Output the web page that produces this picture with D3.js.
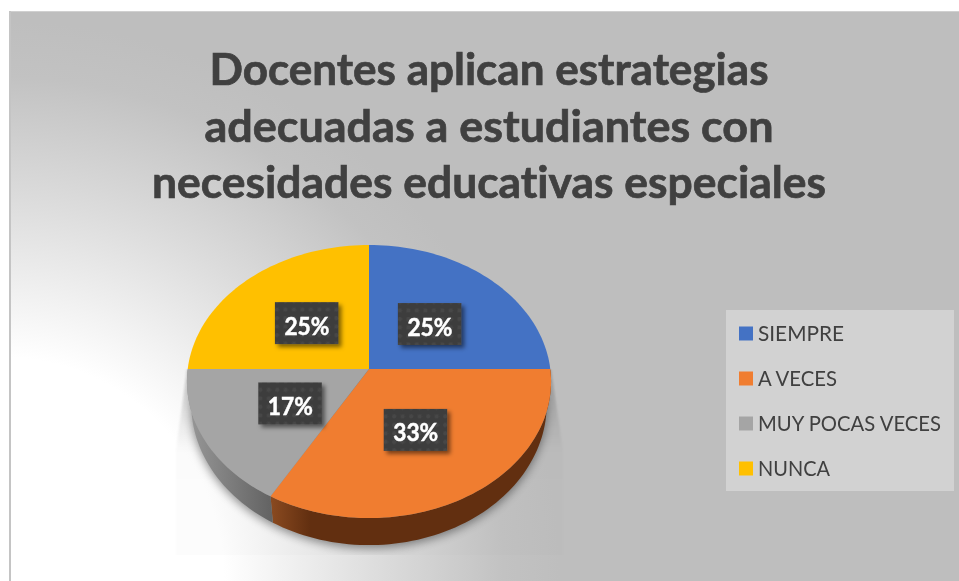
<!DOCTYPE html>
<html>
<head>
<meta charset="utf-8">
<style>
html, body { margin: 0; padding: 0; background: #fff; overflow: hidden; }
text { font-family: Lato, "Open Sans", sans-serif; font-variant-ligatures: none; }
</style>
</head>
<body>

<script src="https://d3js.org/d3.v7.min.js"></script>
<script>

const titleLines = ['Docentes aplican estrategias', 'adecuadas a estudiantes con', 'necesidades educativas especiales'];
const titleWidths = [559, 569, 674];
const categories = ['SIEMPRE', 'A VECES', 'MUY POCAS VECES', 'NUNCA'];
const counts = [3, 4, 2, 3];
const colors = ['#4472c4', '#f07d30', '#a5a5a5', '#ffc000'];
const labelRadius = [0.49, 0.495, 0.49, 0.5];
const legendWidths = [86, 79, 183, 72];

const width = 959;
const height = 581;
const cx = 369;
const cy = 369;
const tilt = 0.0916; // perspective of the 3D pie

const svg = d3.select('body')
              .append('svg')
              .attr('width', width)
              .attr('height', height)
              .style('display', 'block');

const defs = svg.append('defs');

const bg = defs.append('radialGradient')
  .attr('id', 'bg')
  .attr('gradientUnits', 'userSpaceOnUse')
  .attr('cx', 0).attr('cy', height).attr('r', 560);
[[0, '#ffffff'], [0.4, '#ffffff'], [0.68, '#dcdcdc'], [0.9, '#c2c2c2'], [1, '#bebebe']].forEach(s => {
  bg.append('stop').attr('offset', s[0]).attr('stop-color', s[1]);
});

const wallGrad = (id, x1, x2, stops) => {
  const g = defs.append('linearGradient')
    .attr('id', id)
    .attr('gradientUnits', 'userSpaceOnUse')
    .attr('x1', x1).attr('x2', x2).attr('y1', 0).attr('y2', 0);
  stops.forEach(s => g.append('stop').attr('offset', s[0]).attr('stop-color', s[1]));
};
wallGrad('wall1', 271, 310, [[0, '#8a4a20'], [1, '#622f10']]);
wallGrad('wall2', 187, 273, [[0, '#989898'], [1, '#626262']]);

const shade = defs.append('linearGradient')
  .attr('id', 'shade').attr('x1', 0).attr('x2', 0).attr('y1', 0).attr('y2', 1);
shade.append('stop').attr('offset', 0).attr('stop-color', '#000').attr('stop-opacity', 0.17);
shade.append('stop').attr('offset', 0.45).attr('stop-color', '#000').attr('stop-opacity', 0.015);
shade.append('stop').attr('offset', 1).attr('stop-color', '#000').attr('stop-opacity', 0.01);

defs.append('filter').attr('id', 'blur5')
  .attr('x', '-20%').attr('y', '-20%').attr('width', '140%').attr('height', '140%')
  .append('feGaussianBlur').attr('stdDeviation', 5);
defs.append('filter').attr('id', 'blur1')
  .append('feGaussianBlur').attr('stdDeviation', 1);
defs.append('filter').attr('id', 'soft')
  .append('feGaussianBlur').attr('stdDeviation', 0.4);

const labelShadow = defs.append('filter').attr('id', 'labelShadow')
  .attr('x', '-20%').attr('y', '-20%').attr('width', '150%').attr('height', '150%');
labelShadow.append('feDropShadow')
  .attr('dx', 3).attr('dy', 3).attr('stdDeviation', 2.2)
  .attr('flood-color', '#000').attr('flood-opacity', 0.5);

const dots = defs.append('pattern').attr('id', 'dots')
  .attr('patternUnits', 'userSpaceOnUse')
  .attr('width', 8.5).attr('height', 8.5);
dots.append('rect').attr('width', 8.5).attr('height', 8.5).attr('fill', '#3e3e3e');
dots.append('circle').attr('cx', 4).attr('cy', 4).attr('r', 2).attr('fill', '#474747');

const clip = defs.append('clipPath').attr('id', 'shadowClip');
clip.append('rect').attr('x', 0).attr('y', cy).attr('width', width).attr('height', 186);

// background panel with its frame
svg.append('rect').attr('x', 9).attr('y', 11).attr('width', width - 9).attr('height', height - 11).attr('fill', '#d0d0d0');
svg.append('rect').attr('x', 9).attr('y', 11).attr('width', 2).attr('height', height - 11).attr('fill', '#c4c4c4');
svg.append('rect').attr('x', 11).attr('y', 12).attr('width', width - 11).attr('height', height - 12).attr('fill', 'url(#bg)');

// title
svg.append('g')
  .selectAll('text')
  .data(titleLines)
  .enter()
  .append('text')
  .attr('x', 489)
  .attr('y', (d, i) => 85 + i * 56.5)
  .attr('text-anchor', 'middle')
  .attr('font-size', 44)
  .attr('font-weight', 700)
  .attr('fill', '#404040')
  .attr('stroke', '#404040')
  .attr('stroke-width', 0.7)
  .attr('textLength', (d, i) => titleWidths[i])
  .attr('lengthAdjust', 'spacingAndGlyphs')
  .attr('filter', 'url(#soft)')
  .text(d => d);

// pie
const color = d3.scaleOrdinal(categories, colors);
const pie = d3.pie().sort(null).value(d => d.count);
const slices = pie(categories.map((c, i) => ({ name: c, count: counts[i], lr: labelRadius[i] })));
const total = d3.sum(counts);
const pct = d3.format('.0%');

const xTop = d3.scaleLinear([-1, 1], [cx - 181.3, cx + 181.3]);
const yTop = d3.scaleLinear([-1, 1], [cy - 135.4, cy + 135.4]);
const xLow = d3.scaleLinear([-1, 1], [cx - 177, cx + 177]);
const yLow = d3.scaleLinear([-1, 1], [cy + 22 - 140, cy + 22 + 140]);

// angle is clockwise from the top, f is the fraction of the radius
const project = (a, f, xs, ys) => {
  const u = Math.sin(a) * f;
  const z = -Math.cos(a) * f;
  const d = 1 - tilt * z;
  return [xs(u / d), ys(z / d)];
};

const line = d3.line();
const arcPoints = (a0, a1, xs, ys) => {
  const n = Math.max(2, Math.ceil((a1 - a0) / 0.03));
  return d3.range(n + 1).map(i => project(a0 + (a1 - a0) * i / n, 1, xs, ys));
};

// shadow under the pie
const shadowG = svg.append('g').attr('clip-path', 'url(#shadowClip)');
shadowG.append('path')
  .attr('d', line([[187, cy], [176, 450], [176, 556], [563, 556], [563, 450], [551, cy]]))
  .attr('fill', 'url(#shade)')
  .attr('filter', 'url(#blur1)');
shadowG.append('path')
  .attr('d', line(arcPoints(0, 2 * Math.PI, xLow, yLow)) + 'Z')
  .attr('transform', 'translate(0,3)')
  .attr('fill', '#000')
  .attr('opacity', 0.42)
  .attr('filter', 'url(#blur5)');

// side wall, only the near half is visible
const walls = svg.append('g');
slices.forEach((s, i) => {
  const a0 = Math.max(s.startAngle, Math.PI / 2);
  const a1 = Math.min(s.endAngle, 3 * Math.PI / 2);
  if (a1 <= a0) return;
  const pts = arcPoints(a0, a1, xTop, yTop).concat(arcPoints(a0, a1, xLow, yLow).reverse());
  walls.append('path')
    .attr('d', line(pts) + 'Z')
    .attr('fill', `url(#wall${i})`);
});

// top face
svg.append('g')
  .selectAll('path')
  .data(slices)
  .enter()
  .append('path')
  .attr('d', s => line([[cx, cy]].concat(arcPoints(s.startAngle, s.endAngle, xTop, yTop))) + 'Z')
  .attr('fill', s => color(s.data.name));

// data labels
const labels = svg.append('g')
  .selectAll('g')
  .data(slices)
  .enter()
  .append('g')
  .attr('transform', s => {
    const p = project((s.startAngle + s.endAngle) / 2, s.data.lr, xTop, yTop);
    return `translate(${p[0]},${p[1]})`;
  });

labels.append('rect')
  .attr('x', -32).attr('y', -20.5)
  .attr('width', 63.5).attr('height', 42)
  .attr('fill', 'url(#dots)')
  .attr('filter', 'url(#labelShadow)');

labels.append('text')
  .attr('text-anchor', 'middle')
  .attr('y', 12)
  .attr('font-size', 24)
  .attr('font-weight', 700)
  .attr('fill', '#fff')
  .attr('stroke', '#fff')
  .attr('stroke-width', 0.5)
  .attr('textLength', 45)
  .attr('lengthAdjust', 'spacingAndGlyphs')
  .attr('filter', 'url(#soft)')
  .text(s => pct(s.data.count / total));

// legend
svg.append('rect')
  .attr('x', 726).attr('y', 310)
  .attr('width', 228).attr('height', 181)
  .attr('fill', '#d2d2d2');

const legendRow = d3.scaleBand(categories, [311, 491]);
const legend = svg.append('g')
  .selectAll('g')
  .data(categories)
  .enter()
  .append('g')
  .attr('transform', d => `translate(739,${legendRow(d) + legendRow.bandwidth() / 2})`);

legend.append('rect')
  .attr('y', -7)
  .attr('width', 14).attr('height', 14)
  .attr('fill', d => color(d));

legend.append('text')
  .attr('x', 19)
  .attr('y', 7.5)
  .attr('font-size', 21)
  .attr('fill', '#404040')
  .attr('textLength', (d, i) => legendWidths[i])
  .attr('lengthAdjust', 'spacingAndGlyphs')
  .attr('filter', 'url(#soft)')
  .text(d => d);

</script>
</body>
</html>
